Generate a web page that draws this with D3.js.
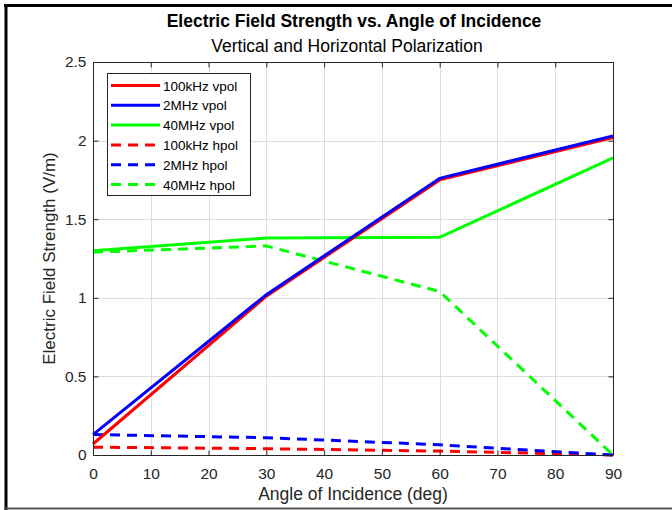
<!DOCTYPE html>
<html>
<head>
<meta charset="utf-8">
<script src="https://cdn.jsdelivr.net/npm/d3@7"></script>
<style>
  html, body { margin: 0; padding: 0; background: #fff; }
  svg { display: block; font-family: "Liberation Sans", Arial, sans-serif; }
</style>
</head>
<body>
<svg id="chart" width="672" height="510"></svg>
<script>
// angles sampled in the simulation
const angles = [0, 30, 60, 90];

// field strength (V/m) per series
const vpol100k = [0.07, 1.01, 1.75, 2.02];
const vpol2M   = [0.13, 1.02, 1.76, 2.03];
const vpol40M  = [1.30, 1.38, 1.385, 1.89];
const hpol100k = [0.05, 0.04, 0.025, 0];
const hpol2M   = [0.13, 0.11, 0.065, 0];
const hpol40M  = [1.29, 1.33, 1.04, 0];

const seriesNames = ["100kHz vpol", "2MHz vpol", "40MHz vpol", "100kHz hpol", "2MHz hpol", "40MHz hpol"];
const seriesValues = [vpol100k, vpol2M, vpol40M, hpol100k, hpol2M, hpol40M];
const seriesColors = ["#ff0000", "#0000ff", "#00ff00", "#ff0000", "#0000ff", "#00ff00"];
const seriesDashed = [false, false, false, true, true, true];

const xTicks = [0, 10, 20, 30, 40, 50, 60, 70, 80, 90];
const yTicks = [0, 0.5, 1, 1.5, 2, 2.5];

const svg = d3.select("#chart");
const L = 93, R = 613, T = 62, B = 455;
const axisCol = "#262626";

// frame of the screenshot
svg.append("line").attr("x1", 6).attr("x2", 6).attr("y1", 4).attr("y2", 510)
  .attr("stroke", "#000").attr("stroke-width", 3);
svg.append("line").attr("x1", 4).attr("x2", 672).attr("y1", 5.5).attr("y2", 5.5)
  .attr("stroke", "#000").attr("stroke-width", 3);
svg.append("line").attr("x1", 4).attr("x2", 672).attr("y1", 508.5).attr("y2", 508.5)
  .attr("stroke", "#555").attr("stroke-width", 2);

const x = d3.scaleLinear().domain([0, 90]).range([L, R]);
const y = d3.scaleLinear().domain([0, 2.5]).range([B, T]);

// grid
const grid = svg.append("g").attr("stroke", "#dcdcdc").attr("stroke-width", 1);
xTicks.slice(1, -1).forEach(t => grid.append("line")
  .attr("x1", Math.round(x(t)) + 0.5).attr("x2", Math.round(x(t)) + 0.5)
  .attr("y1", T).attr("y2", B));
yTicks.slice(1, -1).forEach(t => grid.append("line")
  .attr("x1", L).attr("x2", R)
  .attr("y1", Math.round(y(t)) + 0.5).attr("y2", Math.round(y(t)) + 0.5));

// lines
const line = d3.line().x((d, i) => x(angles[i])).y(d => y(d));
const order = [3, 4, 5, 2, 0, 1];
order.forEach(i => {
  svg.append("path")
    .datum(seriesValues[i])
    .attr("d", line)
    .attr("fill", "none")
    .attr("stroke", seriesColors[i])
    .attr("stroke-width", 3)
    .attr("stroke-dasharray", seriesDashed[i] ? "10,7" : null);
});

// axes (inward ticks, box)
const xAxis = d3.axisBottom(x).tickValues(xTicks).tickSize(-5).tickPadding(12).tickFormat(d3.format("d"));
const yAxis = d3.axisLeft(y).tickValues(yTicks).tickSize(-5).tickPadding(7).tickFormat(d => d);
const xTop = d3.axisTop(x).tickValues(xTicks).tickSize(-5).tickFormat("");
const yRight = d3.axisRight(y).tickValues(yTicks).tickSize(-5).tickFormat("");

function style(g) {
  g.selectAll("path.domain").attr("stroke", axisCol);
  g.selectAll("line").attr("stroke", axisCol);
  g.selectAll("text").attr("fill", axisCol).attr("font-size", 15.5)
    .attr("font-family", "Liberation Sans, Arial, sans-serif");
}
svg.append("g").attr("transform", `translate(0,${B + 0.5})`).call(xAxis).call(style)
  .call(g => g.selectAll("path.domain").attr("d", `M${L},0H${R}`));
svg.append("g").attr("transform", `translate(${L + 0.5},0)`).call(yAxis).call(style)
  .call(g => g.selectAll("path.domain").attr("d", `M0,${T}V${B}`));
svg.append("g").attr("transform", `translate(0,${T + 0.5})`).call(xTop).call(style)
  .call(g => g.selectAll("path.domain").attr("d", `M${L},0H${R}`));
svg.append("g").attr("transform", `translate(${R + 0.5},0)`).call(yRight).call(style)
  .call(g => g.selectAll("path.domain").attr("d", `M0,${T}V${B}`));

// titles
svg.append("text").attr("x", 354).attr("y", 27).attr("text-anchor", "middle")
  .attr("font-size", 17.5).attr("font-weight", "bold").attr("fill", "#000")
  .text("Electric Field Strength vs. Angle of Incidence");
svg.append("text").attr("x", 347).attr("y", 52).attr("text-anchor", "middle")
  .attr("font-size", 17.5).attr("fill", "#000")
  .text("Vertical and Horizontal Polarization");
svg.append("text").attr("x", 353).attr("y", 500).attr("text-anchor", "middle")
  .attr("font-size", 17.5).attr("fill", axisCol)
  .text("Angle of Incidence (deg)");
svg.append("text").attr("transform", `translate(55,${(T + B) / 2}) rotate(-90)`)
  .attr("text-anchor", "middle").attr("font-size", 17).attr("fill", axisCol)
  .text("Electric Field Strength (V/m)");

// legend
const lg = svg.append("g");
lg.append("rect").attr("x", 107.5).attr("y", 73.5).attr("width", 143).attr("height", 122)
  .attr("fill", "#fff").attr("stroke", axisCol).attr("stroke-width", 1);
seriesNames.forEach((name, i) => {
  const yy = 85.5 + i * 19.8;
  lg.append("line").attr("x1", 111).attr("x2", 160).attr("y1", yy).attr("y2", yy)
    .attr("stroke", seriesColors[i]).attr("stroke-width", 3)
    .attr("stroke-dasharray", seriesDashed[i] ? "10,7" : null);
  lg.append("text").attr("x", 163).attr("y", yy + 5).attr("font-size", 13.5)
    .attr("fill", "#000").text(name);
});
</script>
</body>
</html>
